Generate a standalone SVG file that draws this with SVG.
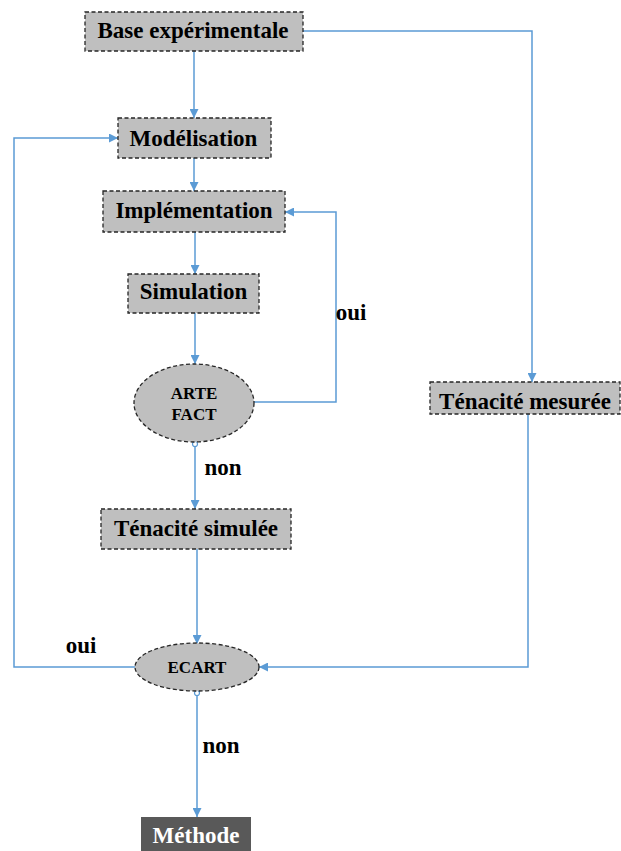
<svg xmlns="http://www.w3.org/2000/svg" width="621" height="851" viewBox="0 0 621 851">
<style>
.box{fill:#BFBFBF;stroke:#262626;stroke-width:1.3;stroke-dasharray:4,2.5}
.t{font-family:'Liberation Serif','DejaVu Serif',serif;font-weight:bold;font-size:23px;fill:#000;text-anchor:middle}
.ts{font-family:'Liberation Serif','DejaVu Serif',serif;font-weight:bold;font-size:17px;fill:#000;text-anchor:middle}
.c{fill:none;stroke:#5B9BD5;stroke-width:1.5}
.o{fill:#fff;stroke:#5B9BD5;stroke-width:1.2}
</style>
<defs>
<marker id="arr" viewBox="0 0 10 10" refX="10" refY="5" markerWidth="6" markerHeight="6" markerUnits="strokeWidth" orient="auto">
<path d="M0,0 L10,5 L0,10 Z" fill="#5B9BD5"/>
</marker>
</defs>
<rect width="621" height="851" fill="#fff"/>
<g id="connectors">
<path class="c" d="M194,51 V118" marker-end="url(#arr)"/>
<path class="c" d="M303,31 H532 V382" marker-end="url(#arr)"/>
<path class="c" d="M194,158 V191" marker-end="url(#arr)"/>
<path class="c" d="M195,232 V274" marker-end="url(#arr)"/>
<path class="c" d="M195,313 V364" marker-end="url(#arr)"/>
<path class="c" d="M254,402 H336 V212 H285" marker-end="url(#arr)"/>
<path class="c" d="M195,445 V509" marker-end="url(#arr)"/>
<circle class="o" cx="195" cy="444" r="2.5"/>
<path class="c" d="M197,549 V644" marker-end="url(#arr)"/>
<path class="c" d="M528,414 V667 H259" marker-end="url(#arr)"/>
<path class="c" d="M135,667 H14 V138 H118" marker-end="url(#arr)"/>
<path class="c" d="M197,694 V817" marker-end="url(#arr)"/>
<circle class="o" cx="197" cy="693" r="2.5"/>
<text class="t" x="351" y="320">oui</text>
<text class="t" x="223" y="475">non</text>
<text class="t" x="81" y="653">oui</text>
<text class="t" x="221" y="753">non</text>
</g>
<g id="base">
<rect class="box" x="85" y="12" width="218" height="39"/>
<text class="t" x="193" y="38">Base expérimentale</text>
</g>
<g id="modelisation">
<rect class="box" x="118" y="118" width="153" height="40"/>
<text class="t" x="193.5" y="146">Modélisation</text>
</g>
<g id="implementation">
<rect class="box" x="103" y="191" width="182" height="41"/>
<text class="t" x="194" y="218">Implémentation</text>
</g>
<g id="simulation">
<rect class="box" x="128" y="274" width="131" height="39"/>
<text class="t" x="193.5" y="299">Simulation</text>
</g>
<g id="artefact">
<ellipse class="box" cx="194" cy="403" rx="60" ry="39"/>
<text class="ts" x="194" y="399">ARTE</text>
<text class="ts" x="194" y="420">FACT</text>
</g>
<g id="tenacite-simulee">
<rect class="box" x="101" y="509" width="190" height="40"/>
<text class="t" x="196" y="536">Ténacité simulée</text>
</g>
<g id="tenacite-mesuree">
<rect class="box" x="430" y="382" width="190" height="32"/>
<text class="t" x="525" y="409">Ténacité mesurée</text>
</g>
<g id="ecart">
<ellipse class="box" cx="197" cy="667" rx="62" ry="24"/>
<text class="ts" x="197" y="673">ECART</text>
</g>
<g id="methode">
<rect x="141" y="817" width="110" height="36" fill="#595959"/>
<text class="t" x="196" y="843" style="fill:#fff">Méthode</text>
</g>
</svg>
